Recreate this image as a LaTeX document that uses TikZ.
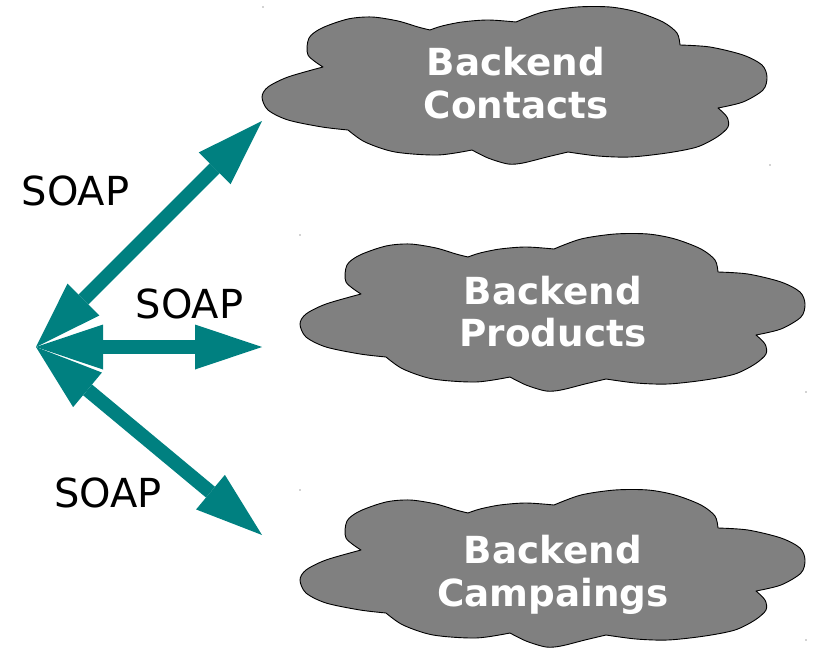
\documentclass[tikz,border=0pt]{standalone}
\usepackage{fontspec}
\setmainfont{DejaVu Sans}
\usetikzlibrary{arrows.meta}
\definecolor{soapteal}{HTML}{008080}
\definecolor{cloudgray}{HTML}{808080}
\tikzset{
  cloudshape/.style={fill=cloudgray, draw=black, line width=0.9pt, line join=round},
  cloudtext/.style={text=white, inner sep=0pt, anchor=base, font=\fontsize{37.3}{44}\selectfont\bfseries},
  soaplabel/.style={text=black, inner sep=0pt, anchor=base west, font=\fontsize{40}{48}\selectfont},
  soaparrow/.style={draw=soapteal, line width=14pt,
    {Triangle[length=67pt,width=45pt,line width=0pt]}-{Triangle[length=67pt,width=45pt,line width=0pt]}},
  speck/.style={fill=black!35}
}
\begin{document}
\begin{tikzpicture}[x=1pt,y=-1pt]
\useasboundingbox (0,0) rectangle (816,650);

% clouds
\foreach \sx/\sy in {0/0, 38/227, 38/483} {
  \begin{scope}[shift={(\sx,\sy)}]
    \path[cloudshape]
      plot[smooth] coordinates {(323,67) (308,55) (309,38) (322,28) (348,19) (372,17) (398,21) (418,27) (430,30)}
      -- plot[smooth] coordinates {(430,30) (442,26) (462,22) (488,20) (516,22)}
      -- plot[smooth] coordinates {(516,22) (543,12) (577,7) (610,7) (637,12) (663,22) (677,33) (680,45)}
      -- plot[smooth] coordinates {(680,45) (710,47) (743,55) (762,65) (767,77) (763,90) (743,102) (718,108)}
      -- plot[smooth] coordinates {(718,108) (727,117) (728,127) (717,137) (697,147) (667,153) (630,157) (598,156) (568,152)}
      -- plot[smooth] coordinates {(568,152) (547,157) (523,163) (508,164) (488,158) (472,150)}
      -- plot[smooth] coordinates {(472,150) (438,155) (395,152) (365,142) (348,130)}
      -- plot[smooth] coordinates {(348,130) (322,127) (288,120) (268,110) (262,97) (268,87) (288,77) (323,67)}
      -- cycle;
  \end{scope}
}

% small specks
\fill[speck] (263,7) circle (0.8);
\fill[speck] (770,165) circle (0.8);
\fill[speck] (300,235) circle (0.8);
\fill[speck] (806,392) circle (0.8);
\fill[speck] (300,490) circle (0.8);
\fill[speck] (806,640) circle (0.8);

% cloud texts
\node[cloudtext] (contactsA) at (516,76) {Backend};
\node[cloudtext] (contactsB) at (516,118) {Contacts};
\node[cloudtext] (productsA) at (553,304) {Backend};
\node[cloudtext] (productsB) at (553,346) {Products};
\node[cloudtext] (campaingsA) at (553,563) {Backend};
\node[cloudtext] (campaingsB) at (553,606) {Campaings};

% arrow end points
\coordinate (hub) at (36,347);
\coordinate (toContacts) at (262,121);
\coordinate (toProducts) at (262,347);
\coordinate (toCampaings) at (262,535);

\draw[soaparrow] (hub) -- (toContacts);
\draw[soaparrow] (hub) -- (toProducts);
\draw[soaparrow] (hub) -- (toCampaings);

% labels
\node[soaplabel] (soapA) at (21.5,205) {SOAP};
\node[soaplabel] (soapB) at (135.5,318) {SOAP};
\node[soaplabel] (soapC) at (54,507) {SOAP};
\end{tikzpicture}
\end{document}
